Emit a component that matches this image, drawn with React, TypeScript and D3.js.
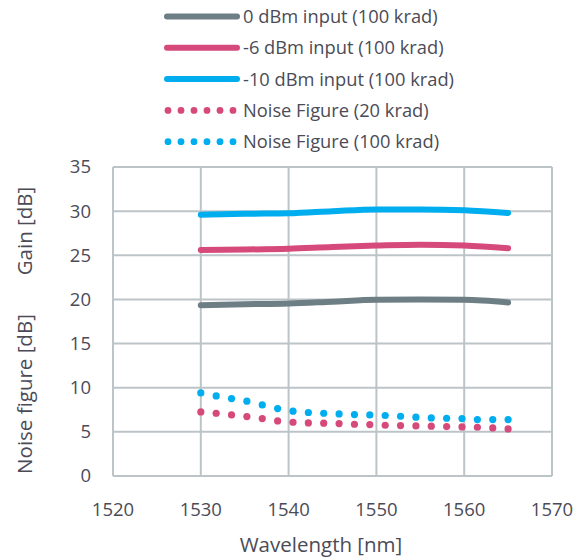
import React from "react";
import * as d3 from "d3";

const width = 586;
const height = 558;
const margin = { top: 167, right: 34, bottom: 82, left: 113 };

// gain curves, sampled every 5 nm
const gainWavelengths = [1530, 1535, 1540, 1545, 1550, 1555, 1560, 1565];
const gain0dBm = [19.35, 19.45, 19.55, 19.75, 19.95, 19.98, 19.95, 19.65];
const gain6dBm = [25.6, 25.65, 25.75, 25.95, 26.1, 26.2, 26.1, 25.8];
const gain10dBm = [29.6, 29.7, 29.75, 30.0, 30.2, 30.2, 30.1, 29.8];

// noise figure points
const nfWavelengths = [
  1530, 1531.75, 1533.5, 1535.25, 1537, 1538.75, 1540.5, 1542.25, 1544, 1545.75,
  1547.5, 1549.25, 1551, 1552.75, 1554.5, 1556.25, 1558, 1559.75, 1561.5, 1563.25, 1565,
];
const nf20krad = [
  7.26, 7.11, 6.92, 6.73, 6.51, 6.24, 6.09, 6.01, 5.98, 5.94, 5.86, 5.83, 5.75, 5.71,
  5.67, 5.64, 5.6, 5.56, 5.52, 5.44, 5.33,
];
const nf100krad = [
  9.41, 9.07, 8.77, 8.47, 8.05, 7.64, 7.34, 7.19, 7.11, 7.03, 6.96, 6.92, 6.85, 6.77,
  6.66, 6.58, 6.54, 6.51, 6.39, 6.39, 6.39,
];

const xTicks = [1520, 1530, 1540, 1550, 1560, 1570];
const yTicks = [0, 5, 10, 15, 20, 25, 30, 35];

const gray = "#6d7e85";
const pink = "#d64a7b";
const blue = "#00adee";
const textColor = "#4b4b57";
const gridColor = "#bcc4c8";
const font = "'Open Sans', sans-serif";

const legend = [
  { label: "0 dBm input (100 krad)", color: gray, dotted: false },
  { label: "-6 dBm input (100 krad)", color: pink, dotted: false },
  { label: "-10 dBm input (100 krad)", color: blue, dotted: false },
  { label: "Noise Figure (20 krad)", color: pink, dotted: true },
  { label: "Noise Figure (100 krad)", color: blue, dotted: true },
];

export default function App() {
  const x = d3
    .scaleLinear()
    .domain([1520, 1570])
    .range([margin.left, width - margin.right]);
  const y = d3
    .scaleLinear()
    .domain([0, 35])
    .range([height - margin.bottom, margin.top]);

  const line = d3
    .line<number>()
    .x((d, i) => x(gainWavelengths[i]))
    .y(d => y(d))
    .curve(d3.curveMonotoneX);

  const gains = [
    { values: gain0dBm, color: gray },
    { values: gain6dBm, color: pink },
    { values: gain10dBm, color: blue },
  ];
  const noise = [
    { values: nf20krad, color: pink },
    { values: nf100krad, color: blue },
  ];

  const legendX = 167;
  const legendY = 16.5;
  const legendStep = 31.3;

  return (
    <svg
      width={width}
      height={height}
      style={{ position: "absolute", left: 0, top: 0, background: "#fff" }}
      fontFamily={font}
    >
      {/* grid */}
      <g stroke={gridColor} strokeWidth={2} fill="none">
        {yTicks.map(t => (
          <line key={"y" + t} x1={x(1520)} x2={x(1570)} y1={y(t)} y2={y(t)} />
        ))}
        {xTicks.map(t => (
          <line key={"x" + t} x1={x(t)} x2={x(t)} y1={y(0)} y2={y(35)} />
        ))}
      </g>

      {/* tick labels */}
      <g fill={textColor} fontSize={18.5}>
        {yTicks.map(t => (
          <text key={t} x={91} y={y(t)} dy="0.35em" textAnchor="end">
            {t}
          </text>
        ))}
        {xTicks.map(t => (
          <text key={t} x={x(t)} y={516} textAnchor="middle">
            {t}
          </text>
        ))}
      </g>

      {/* axis titles */}
      <g fill={textColor} fontSize={20.5}>
        <text x={321} y={552} textAnchor="middle">
          Wavelength [nm]
        </text>
        <text transform="translate(32,231) rotate(-90)" textAnchor="middle">
          Gain [dB]
        </text>
        <text transform="translate(32,394) rotate(-90)" textAnchor="middle">
          Noise figure [dB]
        </text>
      </g>

      {/* gain lines */}
      {gains.map((g, i) => (
        <path
          key={i}
          d={line(g.values) || ""}
          fill="none"
          stroke={g.color}
          strokeWidth={6}
          strokeLinecap="round"
        />
      ))}

      {/* noise figure dots */}
      {noise.map((n, i) => (
        <g key={i} fill={n.color}>
          {n.values.map((v, j) => (
            <circle key={j} cx={x(nfWavelengths[j])} cy={y(v)} r={3.6} />
          ))}
        </g>
      ))}

      {/* legend */}
      {legend.map((item, i) => {
        const ly = legendY + i * legendStep;
        return (
          <g key={item.label}>
            {item.dotted ? (
              d3.range(6).map(k => (
                <circle key={k} cx={legendX + 1 + k * 13} cy={ly} r={3.4} fill={item.color} />
              ))
            ) : (
              <line
                x1={legendX}
                x2={legendX + 70}
                y1={ly}
                y2={ly}
                stroke={item.color}
                strokeWidth={6}
                strokeLinecap="round"
              />
            )}
            <text x={243} y={ly} dy="0.35em" fill={textColor} fontSize={18.3}>
              {item.label}
            </text>
          </g>
        );
      })}
    </svg>
  );
}
